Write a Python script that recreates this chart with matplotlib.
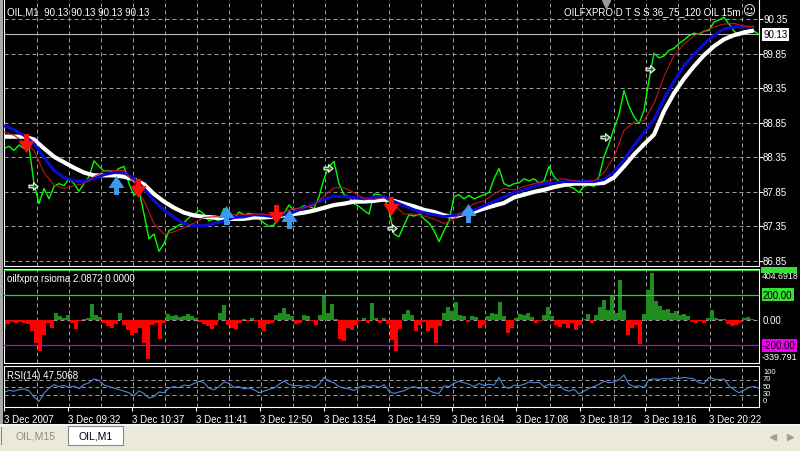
import numpy as np
import matplotlib
matplotlib.use("Agg")
import matplotlib.pyplot as plt
from matplotlib.path import Path
from matplotlib.patches import Rectangle
from matplotlib.transforms import offset_copy
from matplotlib.lines import Line2D

plt.rcParams['font.family'] = ['Liberation Sans', 'DejaVu Sans']

# ---------------- data ----------------
symbol = "OIL,M1"
close_step = 5
close = [88.48, 88.51, 88.45, 88.53, 88.48, 88.51, 87.97, 87.68, 87.90, 87.75,
         87.93, 87.97, 87.94, 88.04, 87.97, 87.86, 87.97, 88.07, 88.30, 88.22,
         88.15, 88.16, 88.13, 88.19, 88.22, 87.97, 87.80, 87.87, 87.53, 87.17,
         87.24, 86.99, 87.10, 87.29, 87.32, 87.37, 87.40, 87.48, 87.52, 87.58,
         87.53, 87.43, 87.46, 87.43, 87.61, 87.50, 87.46, 87.56, 87.52, 87.54,
         87.53, 87.46, 87.40, 87.35, 87.37, 87.53, 87.54, 87.66, 87.58, 87.61,
         87.65, 87.64, 87.61, 87.78, 88.04, 88.22, 88.29, 87.97, 87.81, 87.78,
         87.68, 87.64, 87.58, 87.53, 87.82, 87.81, 87.78, 87.58, 87.24, 87.20,
         87.37, 87.52, 87.50, 87.53, 87.46, 87.40, 87.29, 87.13, 87.29, 87.43,
         87.78, 87.81, 87.75, 87.80, 87.75, 87.78, 87.81, 87.84, 88.04, 88.19,
         87.97, 87.93, 87.97, 87.98, 88.04, 88.01, 88.04, 87.98, 88.01, 88.22,
         88.07, 88.00, 87.97, 87.93, 87.90, 87.84, 87.93, 87.95, 87.93, 88.07,
         88.36, 88.55, 88.77, 88.97, 89.32, 89.09, 88.94, 88.84, 89.03, 89.47,
         89.86, 89.79, 89.82, 89.90, 89.93, 90.00, 90.05, 90.11, 90.15, 90.13,
         90.18, 90.19, 90.31, 90.34, 90.38, 90.28, 90.18, 90.11, 90.18, 90.16,
         90.18, 90.13]

ma_step = 10
ma_white = [88.65, 88.65, 88.65, 88.61, 88.48, 88.36, 88.28, 88.20, 88.13, 88.09,
            88.09, 88.09, 88.07, 88.03, 87.96, 87.82, 87.71, 87.62, 87.55, 87.51,
            87.49, 87.48, 87.46, 87.46, 87.46, 87.48, 87.48, 87.49, 87.51, 87.53,
            87.55, 87.58, 87.62, 87.66, 87.68, 87.71, 87.71, 87.72, 87.74, 87.72,
            87.68, 87.64, 87.59, 87.56, 87.51, 87.49, 87.53, 87.56, 87.61, 87.65,
            87.69, 87.77, 87.81, 87.85, 87.88, 87.92, 87.95, 87.97, 87.97, 87.97,
            87.98, 88.06, 88.22, 88.39, 88.54, 88.68, 89.02, 89.28, 89.49, 89.67,
            89.83, 89.96, 90.06, 90.12, 90.16, 90.19]
ma_blue = [88.81, 88.75, 88.67, 88.55, 88.35, 88.16, 88.06, 88.01, 88.00, 88.04,
           88.10, 88.13, 88.13, 88.04, 87.90, 87.72, 87.59, 87.48, 87.39, 87.36,
           87.36, 87.39, 87.43, 87.48, 87.49, 87.52, 87.51, 87.49, 87.52, 87.56,
           87.62, 87.68, 87.74, 87.79, 87.78, 87.77, 87.75, 87.77, 87.78, 87.71,
           87.65, 87.59, 87.55, 87.52, 87.49, 87.51, 87.53, 87.59, 87.65, 87.71,
           87.78, 87.84, 87.88, 87.93, 87.97, 87.98, 88.00, 88.00, 88.00, 88.00,
           88.03, 88.14, 88.32, 88.52, 88.71, 88.90, 89.20, 89.45, 89.68, 89.84,
           89.99, 90.12, 90.21, 90.24, 90.24, 90.24]
ma_red = [88.72, 88.67, 88.57, 88.45, 88.13, 87.95, 87.90, 87.94, 87.97, 88.07,
          88.15, 88.16, 88.16, 87.98, 87.72, 87.39, 87.24, 87.27, 87.33, 87.40,
          87.48, 87.49, 87.49, 87.52, 87.52, 87.53, 87.53, 87.51, 87.56, 87.61,
          87.62, 87.66, 87.79, 87.91, 87.91, 87.84, 87.75, 87.74, 87.77, 87.66,
          87.53, 87.53, 87.50, 87.46, 87.39, 87.46, 87.58, 87.68, 87.72, 87.82,
          87.90, 87.88, 87.93, 87.97, 88.00, 88.03, 88.04, 88.01, 88.00, 88.01,
          88.13, 88.36, 88.74, 88.86, 88.88, 89.13, 89.52, 89.83, 89.99, 90.11,
          90.18, 90.24, 90.28, 90.29, 90.25, 90.24]

# signal arrows (bar index, price)
sell_bars = [22, 134, 272, 387]
sell_prices = [88.565, 87.91, 87.53, 87.65]
buy_bars = [112, 222, 285, 464]
buy_prices = [87.955, 87.52, 87.46, 87.55]
# small hollow marks (bar index, price)
mark_bars = [29, 324, 388, 601, 646]
mark_prices = [87.94, 88.20, 87.33, 88.65, 89.63]

hist_step = 4
rsioma = [-70, -30, -15, -20, -15, -20, -30, -90, -180, -245,
          -120, -20, -60, 60, 30, 20, 40, -20, -70, -10,
          5, 20, 130, 40, 25, -20, -50, -60, -30, 55,
          -40, -80, -120, -100, -60, -180, -310, -40, -20, -150,
          -20, 50, 35, 40, 25, 35, 50, 30, 20, -15,
          -30, -50, -70, -40, 60, 120, -40, -60, -70, -20,
          10, -10, 15, -10, -60, -85, -30, -20, 40, 60,
          95, 50, 30, -30, -20, 40, 35, -10, -35, 40,
          200, 60, 125, 10, -150, -165, -60, -80, -40, -10,
          20, -20, 135, 20, -20, 20, -30, -160, -245, -70,
          50, 80, 40, -85, -40, -15, -90, -60, -180, -50,
          60, 100, 70, 140, 40, 30, -15, 35, 25, -60,
          -40, 30, 60, 50, 140, 30, -100, -60, 20, 50,
          40, 60, 25, -20, -10, 40, 100, 30, -40, -55,
          -30, -60, -20, -80, -40, 10, 50, -20, 40, 100,
          160, 80, 200, 60, 320, 80, -120, -60, -40, -190,
          50, 240, 375, 150, 110, 80, 90, 60, 70, 40,
          50, 30, -15, -25, -10, -20, 15, 80, 20, 10,
          5, -30, -50, -40, -20, 15, 25, 10, 2.0872]
rsioma_signal = 0.0
rsioma_levels = [400, 200, -200]
rsioma_max_label = 404.6918
rsioma_min_label = -339.791

rsi_step = 5
rsi = [37, 42, 40, 44, 46, 41, 25, 13, 35, 48,
       57, 52, 55, 50, 53, 47, 57, 62, 72, 68,
       56, 52, 48, 44, 40, 36, 28, 41, 34, 22,
       26, 38, 36, 48, 52, 49, 56, 54, 60, 66,
       62, 48, 43, 52, 64, 60, 50, 52, 46, 48,
       44, 36, 40, 45, 48, 58, 66, 58, 54, 55,
       52, 56, 50, 57, 76, 66, 62, 52, 48, 46,
       42, 50, 54, 52, 55, 50, 57, 40, 34, 38,
       41, 48, 52, 47, 50, 42, 36, 34, 54, 52,
       60, 66, 62, 58, 52, 60, 55, 58, 56, 76,
       52, 47, 56, 54, 58, 64, 62, 63, 52, 58,
       54, 57, 44, 40, 45, 33, 40, 48, 52, 58,
       66, 62, 64, 70, 82, 58, 52, 54, 50, 70,
       72, 71, 73, 72, 75, 73, 76, 74, 72, 62,
       60, 76, 72, 70, 72, 54, 44, 36, 42, 50,
       52, 47.5068]
rsi_levels = [70, 50, 30]
rsi_scale_values = [100, 70, 50, 30, 0]

price_ticks = [86.85, 87.35, 87.85, 88.35, 88.85, 89.35, 89.85, 90.35]
time_labels = ["3 Dec 2007", "3 Dec 09:32", "3 Dec 10:37", "3 Dec 11:41",
               "3 Dec 12:50", "3 Dec 13:54", "3 Dec 14:59", "3 Dec 16:04",
               "3 Dec 17:08", "3 Dec 18:12", "3 Dec 19:16", "3 Dec 20:22"]

# ---------------- figure ----------------
W, H = 800, 452
fig = plt.figure(figsize=(W / 100, H / 100), dpi=100, facecolor='black')
GRID = '#9a9a9a'
N_BARS = 755


def px_axes(x0, y0, x1, y1):
    ax = fig.add_axes([x0 / W, 1 - y1 / H, (x1 - x0) / W, (y1 - y0) / H])
    ax.set_facecolor('black')
    ax.set_xlim(0, N_BARS)
    for s in ax.spines.values():
        s.set_color('white')
        s.set_linewidth(0.8)
    return ax


def px_rect(x0, y0, x1, y1, **kw):
    r = Rectangle((x0 / W, 1 - y1 / H), (x1 - x0) / W, (y1 - y0) / H,
                  transform=fig.transFigure, **kw)
    fig.patches.append(r)


def ftext(x, y, s, **kw):
    fig.text(x / W, 1 - y / H, s, **kw)


def right_label(ax, val, s, dy=0, fc=None, tc='white', size=7, dx=4):
    tr = offset_copy(ax.get_yaxis_transform(), fig=fig, x=dx, y=-dy, units='dots')
    kw = {}
    if fc:
        kw['bbox'] = dict(boxstyle='square,pad=0.15', fc=fc, ec='none')
    ax.text(1.0, val, s, transform=tr, color=tc, fontsize=size,
            va='center', ha='left', clip_on=False, **kw)


ax1 = px_axes(4, 0, 759, 267)
ax2 = px_axes(4, 270, 759, 364)
ax3 = px_axes(4, 367, 759, 408)
ax1.spines['top'].set_visible(False)

grid_x = [1 + 32.03 * k for k in range(1, 24)]
for ax in (ax1, ax2, ax3):
    for gx in grid_x:
        ax.axvline(gx, color=GRID, lw=0.72, ls=(0, (4, 3)), zorder=0.5)

# ---- main panel ----
ax1.set_ylim(86.777, 90.644)
for p in price_ticks:
    ax1.axhline(p, color=GRID, lw=0.72, ls=(0, (4, 3)), zorder=0.5)
ax1.axhline(close[-1], color='#b8b8b8', lw=0.8, zorder=0.8)

xc = np.arange(len(close)) * close_step
xm = np.arange(len(ma_white)) * ma_step
ax1.plot(xc, close, color='#00ff00', lw=1.0, zorder=2)
ax1.plot(xm, ma_white, color='white', lw=3.0, zorder=3, solid_capstyle='butt')
ax1.plot(xm, ma_blue, color='#0a0ad2', lw=2.2, zorder=4, solid_capstyle='butt')
ax1.plot(xm, ma_red, color='#c01818', lw=0.8, zorder=5)

up_verts = [(0, 0.5), (0.42, -0.13), (0.13, -0.13), (0.13, -0.5),
            (-0.13, -0.5), (-0.13, -0.13), (-0.42, -0.13), (0, 0.5)]
up_path = Path(up_verts, closed=True)
down_path = Path([(x, -y) for x, y in up_verts], closed=True)
ax1.plot(buy_bars, buy_prices, ls='none', marker=up_path, markersize=13.7,
         color='#3a9af0', markeredgewidth=0, zorder=7)
ax1.plot(sell_bars, sell_prices, ls='none', marker=down_path, markersize=13.7,
         color='#ff1010', markeredgewidth=0, zorder=7)
right_verts = [(-0.5, -0.15), (0.0, -0.15), (0.0, -0.42), (0.5, 0.0),
               (0.0, 0.42), (0.0, 0.15), (-0.5, 0.15), (-0.5, -0.15)]
ax1.plot(mark_bars, mark_prices, ls='none', marker=Path(right_verts, closed=True),
         markersize=6.5, markerfacecolor='#1a7a1a', markeredgecolor='white',
         markeredgewidth=0.8, zorder=7)

ax1.set_xticks([])
ax1.yaxis.tick_right()
ax1.set_yticks(price_ticks)
ax1.tick_params(axis='y', colors='white', length=3, width=0.8, labelright=False)
for p in price_ticks:
    right_label(ax1, p, f"{p:.2f}")
right_label(ax1, close[-1], f"{close[-1]:.2f}", fc='white', tc='black')

ftext(7, 12.5, f"{symbol}  " + " ".join([f"{close[-1]:.2f}"] * 4),
      color='white', fontsize=7, va='center')
ftext(740, 12.5, "OILFXPRO D T S S 36_75_120 OIL 15m", color='white',
      fontsize=7, va='center', ha='right')
ftext(749, 12.0, "\u263a", color='white', fontsize=9, va='center', ha='center',
      family='DejaVu Sans')
fig.add_artist(Line2D([606 / W], [1 - 5 / H], transform=fig.transFigure,
                      marker='v', markersize=5.5, color='#9a9a9a', ls='none'))

# ---- rsioma histogram ----
ax2.set_ylim(rsioma_min_label, rsioma_max_label)
xh = np.arange(len(rsioma)) * hist_step
hv = np.array(rsioma, dtype=float)
ax2.bar(xh, hv, width=hist_step, color=np.where(hv >= 0, '#1e8c1e', '#ff0000'),
        linewidth=0, zorder=2)
ax2.axhline(rsioma_signal, color=GRID, lw=0.72, ls=(0, (4, 3)), zorder=1)
ax2.axhline(rsioma_levels[0], color='#32cd32', lw=0.9, zorder=3)
ax2.axhline(rsioma_levels[1], color='#32cd32', lw=0.9, zorder=3)
ax2.axhline(rsioma_levels[2], color='#cc00cc', lw=0.9, zorder=3)
ax2.set_xticks([])
ax2.set_yticks([])
px_rect(761, 268, 797, 273.5, fc='#33e033', ec='none')
right_label(ax2, rsioma_max_label, f"{rsioma_max_label:.4f}", dy=6.5, size=6.3, dx=3)
right_label(ax2, 200, "200.00", fc='#33e033', tc='black')
right_label(ax2, 0, "0.00")
right_label(ax2, -200, "-200.00", fc='#ee00ee', tc='black')
right_label(ax2, rsioma_min_label, f"{rsioma_min_label:.3f}", dy=-6, size=6.6, dx=3)
ftext(7, 278.5, f"oilfxpro rsioma {rsioma[-1]:.4f} {rsioma_signal:.4f}",
      color='white', fontsize=7, va='center')

# ---- RSI ----
ax3.set_ylim(-1.3, 105.7)
for lv in rsi_levels:
    ax3.axhline(lv, color=GRID, lw=0.72, ls=(0, (4, 3)), zorder=0.5)
xr = np.arange(len(rsi)) * rsi_step
ax3.plot(xr, rsi, color='#5088d4', lw=0.8, zorder=2)
ax3.set_yticks([])
ax3.set_xticks([64.05 * k for k in range(len(time_labels))])
ax3.set_xticklabels(time_labels, ha='left', color='white', fontsize=7)
ax3.tick_params(axis='x', colors='white', length=3, width=0.8, pad=2)
for v, d in zip(rsi_scale_values, [3.8, -0.7, -1.3, -2.0, -6.5]):
    right_label(ax3, v, f"{v}", dy=d, size=5.4)
ftext(7, 376, f"RSI(14) {rsi[-1]:.4f}", color='white', fontsize=7, va='center')

# ---- window chrome ----
px_rect(0, 0, 2.5, 425, fc='#a8a8a8', ec='none')
px_rect(0, 425, 800, 452, fc='#ece9d8', ec='none')
px_rect(0, 425, 800, 426.5, fc='#f4f4f4', ec='none')
px_rect(1, 428, 2, 446, fc='#808080', ec='none')
px_rect(68, 427, 123, 446, fc='white', ec='#8a8a8a', lw=0.8)
ftext(35, 437, "OIL,M15", color='#8c8c8c', fontsize=7.5, va='center', ha='center')
ftext(95.5, 437, "OIL,M1", color='black', fontsize=7.5, va='center', ha='center')
for mx, mk in ((773, '<'), (790, '>')):
    fig.add_artist(Line2D([mx / W], [1 - 438 / H], transform=fig.transFigure,
                          marker=mk, markersize=4, color='#a0a0a0', ls='none'))

fig.savefig('out.png', dpi=100, facecolor='black')
